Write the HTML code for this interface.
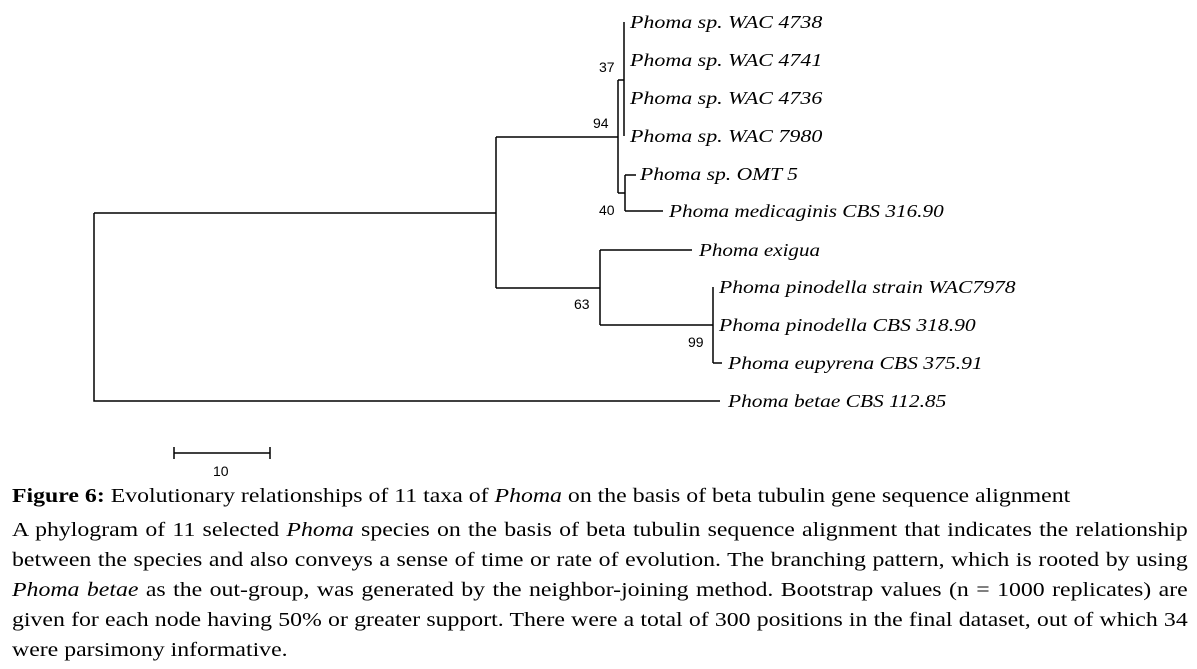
<!DOCTYPE html>
<html><head><style>
body{margin:0;background:#fff;width:1197px;height:669px;overflow:hidden;position:relative}
svg{position:absolute;left:0;top:0}
.t{font-family:"Liberation Serif",serif;font-style:italic;font-size:18px}
.n{font-family:"Liberation Sans",sans-serif;font-size:14px}
.cap{position:absolute;left:12px;width:988px;transform:scaleX(1.19);transform-origin:0 0;font-family:"Liberation Serif",serif;font-size:20px;color:#000;white-space:nowrap}
.p{top:515px;line-height:30px}
.p div{text-align:justify;text-align-last:justify;white-space:normal}
.p div.l{text-align-last:left}
</style></head><body>
<svg width="1197" height="669" stroke="#000" stroke-width="1.5" fill="none">
<path d="M94 213V401H720M94 213H496M496 137V288M496 137H618M496 288H600M618 80V193M618 80H624M624 22V136M618 193H625M625 175V211M625 175H636M625 211H663M600 250V325M600 250H692M600 325H713M713 287V363M713 363H722M174 453H270M174 447V459M270 447V459"/>
<g stroke="none" fill="#000">
<text class="t" transform="translate(630 28) scale(1.22 1)">Phoma sp. WAC 4738</text>
<text class="t" transform="translate(630 66) scale(1.22 1)">Phoma sp. WAC 4741</text>
<text class="t" transform="translate(630 104) scale(1.22 1)">Phoma sp. WAC 4736</text>
<text class="t" transform="translate(630 142) scale(1.22 1)">Phoma sp. WAC 7980</text>
<text class="t" transform="translate(640 180) scale(1.2 1)">Phoma sp. OMT 5</text>
<text class="t" transform="translate(669 217) scale(1.18 1)">Phoma medicaginis CBS 316.90</text>
<text class="t" transform="translate(699 256) scale(1.17 1)">Phoma exigua</text>
<text class="t" transform="translate(719 293) scale(1.2 1)">Phoma pinodella strain WAC7978</text>
<text class="t" transform="translate(719 331) scale(1.2 1)">Phoma pinodella CBS 318.90</text>
<text class="t" transform="translate(728 369) scale(1.2 1)">Phoma eupyrena CBS 375.91</text>
<text class="t" transform="translate(728 407) scale(1.19 1)">Phoma betae CBS 112.85</text>
<text class="n" x="599" y="72">37</text>
<text class="n" x="593" y="128">94</text>
<text class="n" x="599" y="215">40</text>
<text class="n" x="574" y="309">63</text>
<text class="n" x="688" y="347">99</text>
<text class="n" x="213" y="476">10</text>
</g></svg>
<div class="cap" style="top:485px"><b>Figure 6:</b> Evolutionary relationships of 11 taxa of <i>Phoma</i> on the basis of beta tubulin gene sequence alignment</div>
<div class="cap p">
<div>A phylogram of 11 selected <i>Phoma</i> species on the basis of beta tubulin sequence alignment that indicates the relationship</div>
<div>between the species and also conveys a sense of time or rate of evolution. The branching pattern, which is rooted by using</div>
<div><i>Phoma betae</i> as the out-group, was generated by the neighbor-joining method. Bootstrap values (n = 1000 replicates) are</div>
<div>given for each node having 50% or greater support. There were a total of 300 positions in the final dataset, out of which 34</div>
<div class="l">were parsimony informative.</div>
</div>
</body></html>
